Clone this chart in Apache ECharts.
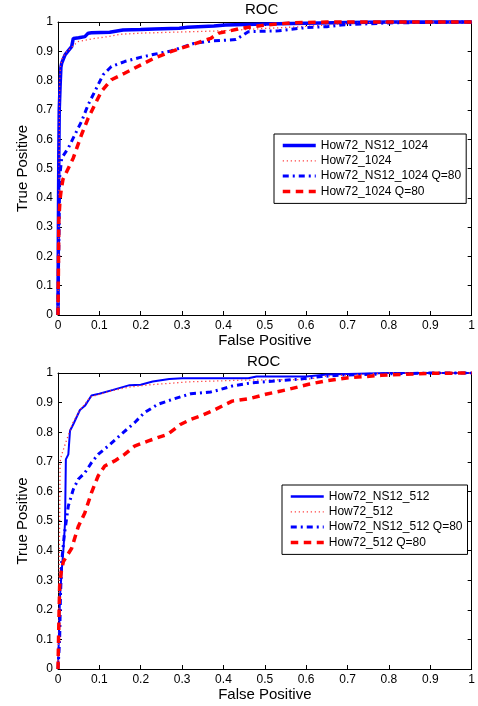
<!DOCTYPE html>
<html>
<head>
<meta charset="utf-8">
<title>ROC</title>
<script src="https://cdn.jsdelivr.net/npm/echarts@6.0.0/dist/echarts.min.js"></script>
<style>
    html, body { margin: 0; padding: 0; background: #fff; }
    #chart { width: 478px; height: 706px; }
</style>
</head>
<body>
<div id="chart"></div>
<script>
    // ---- top plot (1024) ----
    var fprNs1024 = [0, 0.001, 0.002, 0.003, 0.005, 0.007, 0.009, 0.017, 0.025, 0.033, 0.037, 0.05, 0.065, 0.073, 0.081, 0.125, 0.157, 0.2, 0.233, 0.293, 0.313, 0.377, 0.405, 0.5, 0.6, 0.7, 0.8, 1];
    var tprNs1024 = [0, 0.3, 0.55, 0.7, 0.78, 0.845, 0.86, 0.888, 0.902, 0.916, 0.944, 0.946, 0.95, 0.962, 0.963, 0.965, 0.973, 0.974, 0.976, 0.979, 0.982, 0.986, 0.99, 0.993, 0.996, 0.998, 1, 1];

    var fpr1024 = [0, 0.002, 0.003, 0.004, 0.006, 0.01, 0.018, 0.03, 0.048, 0.065, 0.089, 0.12, 0.15, 0.2, 0.3, 0.4, 0.5, 0.6, 0.7, 0.8, 1];
    var tpr1024 = [0, 0.3, 0.6, 0.8, 0.85, 0.875, 0.895, 0.91, 0.933, 0.938, 0.944, 0.95, 0.958, 0.962, 0.966, 0.97, 0.978, 0.985, 0.995, 1, 1];

    var fprNs1024Q = [0, 0.002, 0.004, 0.009, 0.025, 0.041, 0.057, 0.073, 0.089, 0.109, 0.129, 0.161, 0.201, 0.233, 0.273, 0.329, 0.369, 0.43, 0.46, 0.534, 0.6, 0.65, 0.685, 0.8, 1];
    var tprNs1024Q = [0, 0.25, 0.47, 0.536, 0.57, 0.616, 0.661, 0.718, 0.763, 0.82, 0.848, 0.865, 0.88, 0.89, 0.901, 0.927, 0.935, 0.94, 0.967, 0.97, 0.981, 0.984, 0.99, 0.997, 1];

    var fpr1024Q = [0, 0.001, 0.002, 0.005, 0.008, 0.012, 0.037, 0.057, 0.073, 0.089, 0.105, 0.129, 0.161, 0.201, 0.233, 0.273, 0.329, 0.369, 0.389, 0.445, 0.502, 0.565, 0.65, 0.8, 1];
    var tpr1024Q = [0, 0.15, 0.327, 0.395, 0.43, 0.463, 0.536, 0.616, 0.672, 0.718, 0.763, 0.803, 0.825, 0.854, 0.877, 0.899, 0.925, 0.944, 0.962, 0.979, 0.99, 0.997, 1, 1, 1];

    // ---- bottom plot (512) ----
    var fprNs512 = [0, 0.002, 0.005, 0.01, 0.013, 0.017, 0.019, 0.025, 0.029, 0.037, 0.053, 0.065, 0.081, 0.1, 0.133, 0.173, 0.2, 0.229, 0.269, 0.3, 0.46, 0.48, 0.6, 0.65, 0.8, 1];
    var tprNs512 = [0, 0.1, 0.25, 0.35, 0.402, 0.494, 0.708, 0.725, 0.805, 0.827, 0.875, 0.889, 0.924, 0.93, 0.943, 0.959, 0.96, 0.971, 0.98, 0.982, 0.982, 0.988, 0.988, 0.995, 1, 1];

    var fpr512 = [0, 0.002, 0.004, 0.005, 0.008, 0.015, 0.025, 0.035, 0.053, 0.065, 0.077, 0.1, 0.13, 0.17, 0.22, 0.27, 0.313, 0.45, 0.6, 0.65, 0.8, 1];
    var tpr512 = [0, 0.2, 0.5, 0.7, 0.72, 0.75, 0.79, 0.83, 0.875, 0.895, 0.918, 0.928, 0.94, 0.952, 0.96, 0.965, 0.97, 0.976, 0.978, 0.99, 1, 1];

    var fprNs512Q = [0, 0.004, 0.006, 0.009, 0.015, 0.025, 0.037, 0.049, 0.065, 0.081, 0.097, 0.121, 0.153, 0.185, 0.209, 0.241, 0.281, 0.321, 0.341, 0.369, 0.389, 0.421, 0.469, 0.526, 0.582, 0.637, 0.685, 0.8, 0.9, 1];
    var tprNs512Q = [0, 0.1, 0.25, 0.363, 0.45, 0.551, 0.607, 0.641, 0.663, 0.697, 0.725, 0.753, 0.793, 0.832, 0.866, 0.894, 0.913, 0.93, 0.932, 0.936, 0.943, 0.956, 0.967, 0.973, 0.979, 0.988, 0.993, 0.997, 1, 1];

    var fpr512Q = [0, 0.002, 0.004, 0.008, 0.013, 0.033, 0.049, 0.065, 0.081, 0.097, 0.113, 0.137, 0.161, 0.185, 0.217, 0.265, 0.297, 0.321, 0.345, 0.373, 0.421, 0.462, 0.502, 0.558, 0.606, 0.646, 0.702, 0.781, 0.901, 1];
    var tpr512Q = [0, 0.15, 0.28, 0.33, 0.363, 0.408, 0.481, 0.528, 0.596, 0.652, 0.686, 0.703, 0.725, 0.753, 0.77, 0.793, 0.827, 0.843, 0.855, 0.872, 0.905, 0.913, 0.928, 0.945, 0.962, 0.973, 0.984, 0.992, 0.999, 1];

    var FONT = '"Liberation Sans", Arial, Helvetica, sans-serif';
    var BLUE = '#0000ff';
    var RED = '#ff0000';
    var PINK = '#ff3a3a';

    function zip(xs, ys) {
        return xs.map(function (x, i) { return [x, ys[i]]; });
    }

    // one axis of the boxed frame, ticks pointing inside like matlab
    function axis(grid, pos, showLabel, name, nameGap) {
        return {
            type: 'value', gridIndex: grid, position: pos,
            min: 0, max: 1, interval: 0.1,
            axisLine: { show: true, onZero: false, lineStyle: { color: '#000', width: 1 } },
            axisTick: { show: true, inside: true, length: 4, lineStyle: { color: '#000' } },
            axisLabel: { show: showLabel, color: '#000', fontSize: 12, fontFamily: FONT, margin: 5 },
            splitLine: { show: false },
            name: name || '',
            nameLocation: 'middle',
            nameGap: nameGap || 0,
            nameTextStyle: { color: '#000', fontSize: 15, fontFamily: FONT }
        };
    }

    function yAxis(grid, pos, showLabel, name, nameGap) {
        var a = axis(grid, pos, showLabel, name, nameGap);
        a.nameMoveOverlap = false;
        return a;
    }

    function line(name, xi, xs, ys, color, width, type) {
        return {
            name: name, type: 'line', xAxisIndex: xi, yAxisIndex: xi,
            data: zip(xs, ys), symbol: 'none', clip: false,
            color: color,
            lineStyle: { color: color, width: width, type: type },
            animation: false
        };
    }

    function legend(left, top, names, widths) {
        return {
            left: left, top: top, orient: 'vertical',
            itemWidth: 33, itemHeight: 14, itemGap: 3.3,
            padding: [5.5, 5, 6, 7],
            borderColor: '#000', borderWidth: 1, backgroundColor: '#fff',
            selectedMode: false,
            itemStyle: { opacity: 0 },   // hide the circle, keep only the line sample
            textStyle: { color: '#000', fontSize: 12, fontFamily: FONT },
            data: names.map(function (n, i) { return { name: n, lineStyle: { width: widths[i] } }; })
        };
    }

    var chart = echarts.init(document.getElementById('chart'));
    var option = {
        backgroundColor: '#fff',
        animation: false,
        title: [
            { text: 'ROC', left: 245, top: 2, padding: 0, textStyle: { color: '#000', fontSize: 15, fontWeight: 'normal', fontFamily: FONT } },
            { text: 'ROC', left: 247, top: 354, padding: 0, textStyle: { color: '#000', fontSize: 15, fontWeight: 'normal', fontFamily: FONT } }
        ],
        grid: [
            { left: 58, top: 22, width: 416, height: 293 },
            { left: 58, top: 373, width: 416, height: 296 }
        ],
        xAxis: [
            axis(0, 'bottom', true, 'False Positive', 16),
            axis(0, 'top', false),
            axis(1, 'bottom', true, 'False Positive', 18),
            axis(1, 'top', false)
        ],
        yAxis: [
            yAxis(0, 'left', true, 'True Positive', 28),
            yAxis(0, 'right', false),
            yAxis(1, 'left', true, 'True Positive', 28),
            yAxis(1, 'right', false)
        ],
        legend: [
            legend(274, 134, ['How72_NS12_1024', 'How72_1024', 'How72_NS12_1024 Q=80', 'How72_1024 Q=80'], [3.5, 1.3, 3, 3.5]),
            legend(282, 485, ['How72_NS12_512', 'How72_512', 'How72_NS12_512 Q=80', 'How72_512 Q=80'], [2.5, 1.3, 3, 3.5])
        ],
        series: [
            line('How72_NS12_1024', 0, fprNs1024, tprNs1024, BLUE, 3.5, 'solid'),
            line('How72_1024', 0, fpr1024, tpr1024, PINK, 1.3, [1.2, 2.8]),
            line('How72_NS12_1024 Q=80', 0, fprNs1024Q, tprNs1024Q, BLUE, 3, [6, 4, 2, 4]),
            line('How72_1024 Q=80', 0, fpr1024Q, tpr1024Q, RED, 3.5, [7.5, 5.5]),
            line('How72_NS12_512', 2, fprNs512, tprNs512, BLUE, 2, 'solid'),
            line('How72_512', 2, fpr512, tpr512, PINK, 1.3, [1.2, 2.8]),
            line('How72_NS12_512 Q=80', 2, fprNs512Q, tprNs512Q, BLUE, 3, [6, 4, 2, 4]),
            line('How72_512 Q=80', 2, fpr512Q, tpr512Q, RED, 3.5, [7.5, 5.5])
        ]
    };
    chart.setOption(option);
</script>
</body>
</html>
